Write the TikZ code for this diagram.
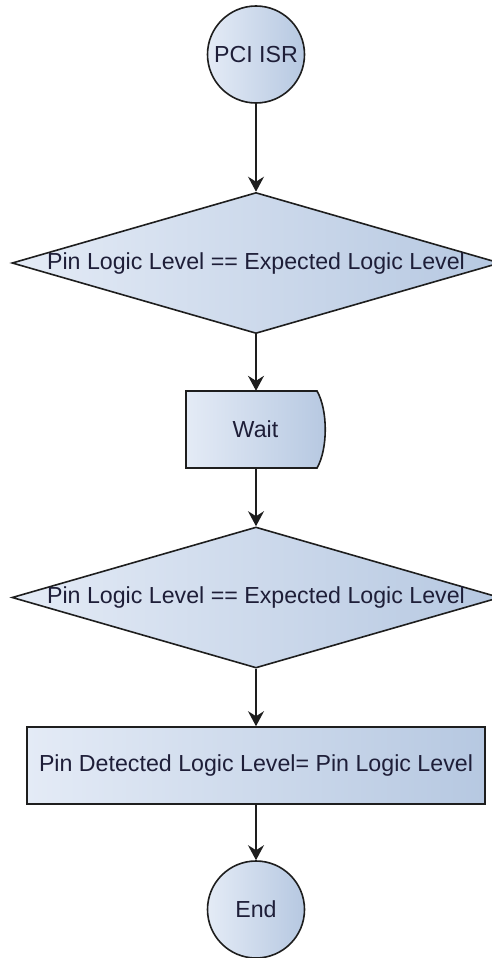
\documentclass[tikz,border=0pt]{standalone}
\usepackage{fontspec}
\setmainfont{Liberation Sans}
\usetikzlibrary{shapes.geometric,arrows.meta}
\definecolor{fillL}{HTML}{E4EBF6}
\definecolor{fillR}{HTML}{B6C8E1}
\definecolor{edge}{HTML}{1E1E1E}
\definecolor{ink}{HTML}{1E1E38}
\begin{document}
\begin{tikzpicture}[x=1pt,y=-1pt,
  every node/.style={font=\fontsize{23.2}{27}\selectfont, text=ink},
  shape base/.style={draw=edge, line width=1.6pt, left color=fillL, right color=fillR, inner sep=0pt},
  terminal/.style={shape base, circle, minimum size=97pt},
  decision/.style={shape base, diamond, minimum width=488pt, minimum height=141pt},
  process/.style={shape base, rectangle, minimum width=458pt, minimum height=77pt},
  flow/.style={draw=edge, line width=1.6pt, -{Stealth[length=15pt,width=16pt,inset=5pt]}}]
\useasboundingbox (0,0) rectangle (492,958);

\node[terminal] (start) at (256,54.5) {PCI ISR};
\node[decision] (check1) at (256,263) {\makebox[0pt]{Pin Logic Level == Expected Logic Level}};

% delay block: flat left side, rounded right side
\shade[left color=fillL, right color=fillR, draw=edge, line width=1.6pt]
  (186,391) -- (317,391) .. controls (328,410) and (328,449) .. (317,468)
  -- (186,468) -- cycle;
\node[inner sep=0pt, minimum width=139pt, minimum height=77pt] (wait) at (255.5,429.5) {Wait};

\node[decision] (check2) at (256,597.5) {\makebox[0pt]{Pin Logic Level == Expected Logic Level}};
\node[process] (assign) at (256,765.5) {Pin Detected Logic Level= Pin Logic Level};
\node[terminal] (stop) at (256,909.5) {End};

\draw[flow] (start) -- (check1);
\draw[flow] (check1) -- (wait.north -| check1.south);
\draw[flow] (wait.south -| check1.south) -- (check2);
\draw[flow] (check2) -- (assign);
\draw[flow] (assign) -- (stop);
\end{tikzpicture}
\end{document}
